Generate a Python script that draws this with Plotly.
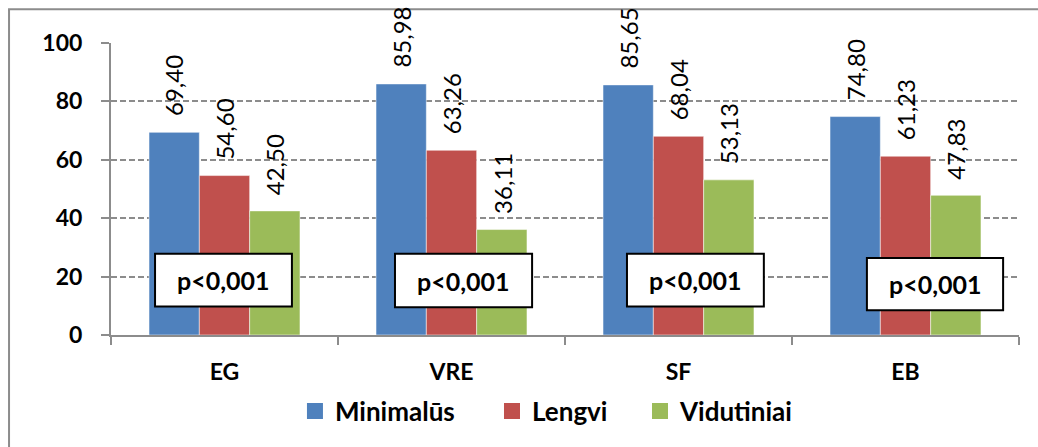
import plotly.graph_objects as go

# Categories and series values
categories = ["EG", "VRE", "SF", "EB"]
series_names = ["Minimalūs", "Lengvi", "Vidutiniai"]
minimalus = [69.40, 85.98, 85.65, 74.80]
lengvi = [54.60, 63.26, 68.04, 61.23]
vidutiniai = [42.50, 36.11, 53.13, 47.83]
p_labels = ["p<0,001", "p<0,001", "p<0,001", "p<0,001"]
y_ticks = [0, 20, 40, 60, 80, 100]

colors = ["#4F81BD", "#C0504D", "#9BBB59"]
all_series = [minimalus, lengvi, vidutiniai]

BARGAP = 0.335
FONT = "Lato"

# one legend box per series so each entry can be placed on its own
legend_ids = ["legend", "legend2", "legend3"]
legend_x = [0.2026, 0.4196, 0.5826]

fig = go.Figure()

for name, vals, col, lid in zip(series_names, all_series, colors, legend_ids):
    fig.add_trace(go.Bar(
        x=categories, y=vals, name=name,
        marker=dict(color=col, line=dict(color="rgba(255,255,255,0.5)", width=1)),
        showlegend=False,
    ))
    # square legend swatch
    fig.add_trace(go.Scatter(
        x=[None], y=[None], mode="markers", name=f"<b>{name}</b>",
        marker=dict(symbol="square", size=16, color=col),
        showlegend=True, legend=lid,
    ))

# value labels above each bar, rotated to read upward
bar_w = (1 - BARGAP) / len(all_series)
annotations = []
for j, vals in enumerate(all_series):
    offset = (j - (len(all_series) - 1) / 2) * bar_w
    for i, v in enumerate(vals):
        annotations.append(dict(
            x=i + offset, y=v, xref="x", yref="y",
            text=f"{v:.2f}".replace(".", ","),
            textangle=-90, showarrow=False,
            xanchor="center", yanchor="bottom", yshift=14,
            font=dict(family=FONT, size=24, color="#000000"),
        ))

# significance boxes (left/right offset relative to category centre, bottom/top in axis units)
box_left = [-0.306, -0.249, -0.227, -0.17]
box_right = [0.297, 0.355, 0.376, 0.43]
box_bottom = [9.8, 9.5, 9.8, 8.5]
box_top = [27.8, 27.8, 27.8, 26.4]

shapes = []
for i, lab in enumerate(p_labels):
    shapes.append(dict(
        type="rect", xref="x", yref="y",
        x0=i + box_left[i], x1=i + box_right[i],
        y0=box_bottom[i], y1=box_top[i],
        fillcolor="#FFFFFF", line=dict(color="#000000", width=2), layer="above",
    ))
    annotations.append(dict(
        x=i + (box_left[i] + box_right[i]) / 2, y=(box_bottom[i] + box_top[i]) / 2,
        xref="x", yref="y", text=f"<b>{lab}</b>", showarrow=False,
        xanchor="center", yanchor="middle",
        font=dict(family=FONT, size=25, color="#000000"),
    ))

# outer chart frame
shapes.append(dict(
    type="rect", xref="paper", yref="paper",
    x0=-0.1123, x1=1.2, y0=-0.5, y1=1.1153,
    line=dict(color="#8C8C8C", width=2), fillcolor="rgba(0,0,0,0)", layer="below",
))

legend_style = dict(
    orientation="h", xanchor="left", y=-0.261, yanchor="middle",
    font=dict(family=FONT, size=26, color="#000000"),
    bgcolor="rgba(0,0,0,0)", itemwidth=30, borderwidth=0,
)

fig.update_layout(
    width=1038, height=447,
    margin=dict(l=111, r=19, t=43, b=109),
    paper_bgcolor="#FFFFFF", plot_bgcolor="#FFFFFF",
    barmode="group", bargap=BARGAP, bargroupgap=0,
    font=dict(family=FONT, color="#000000"),
    shapes=shapes, annotations=annotations,
    legend=dict(x=legend_x[0], **legend_style),
    legend2=dict(x=legend_x[1], **legend_style),
    legend3=dict(x=legend_x[2], **legend_style),
)

fig.update_xaxes(
    type="category", categoryorder="array", categoryarray=categories,
    tickmode="array", tickvals=categories,
    ticktext=[f"<b>{c}</b>" for c in categories],
    tickson="boundaries", ticks="outside", ticklen=8, tickwidth=2, tickcolor="#8C8C8C",
    showline=True, linecolor="#8C8C8C", linewidth=2,
    tickfont=dict(family=FONT, size=23, color="#000000"),
    ticklabelstandoff=15,
    showgrid=False, range=[-0.5, 3.5], fixedrange=True,
)

fig.update_yaxes(
    range=[0, 100], tickmode="array", tickvals=y_ticks,
    ticktext=[f"<b>{t}</b>" for t in y_ticks],
    ticks="outside", ticklen=8, tickwidth=2, tickcolor="#8C8C8C",
    showline=True, linecolor="#8C8C8C", linewidth=2,
    showgrid=True, gridcolor="#8C8C8C", gridwidth=1.5, griddash="6px,3px",
    zeroline=False,
    tickfont=dict(family=FONT, size=23, color="#000000"),
    ticklabelstandoff=14,
)

fig.write_html("out.html")
